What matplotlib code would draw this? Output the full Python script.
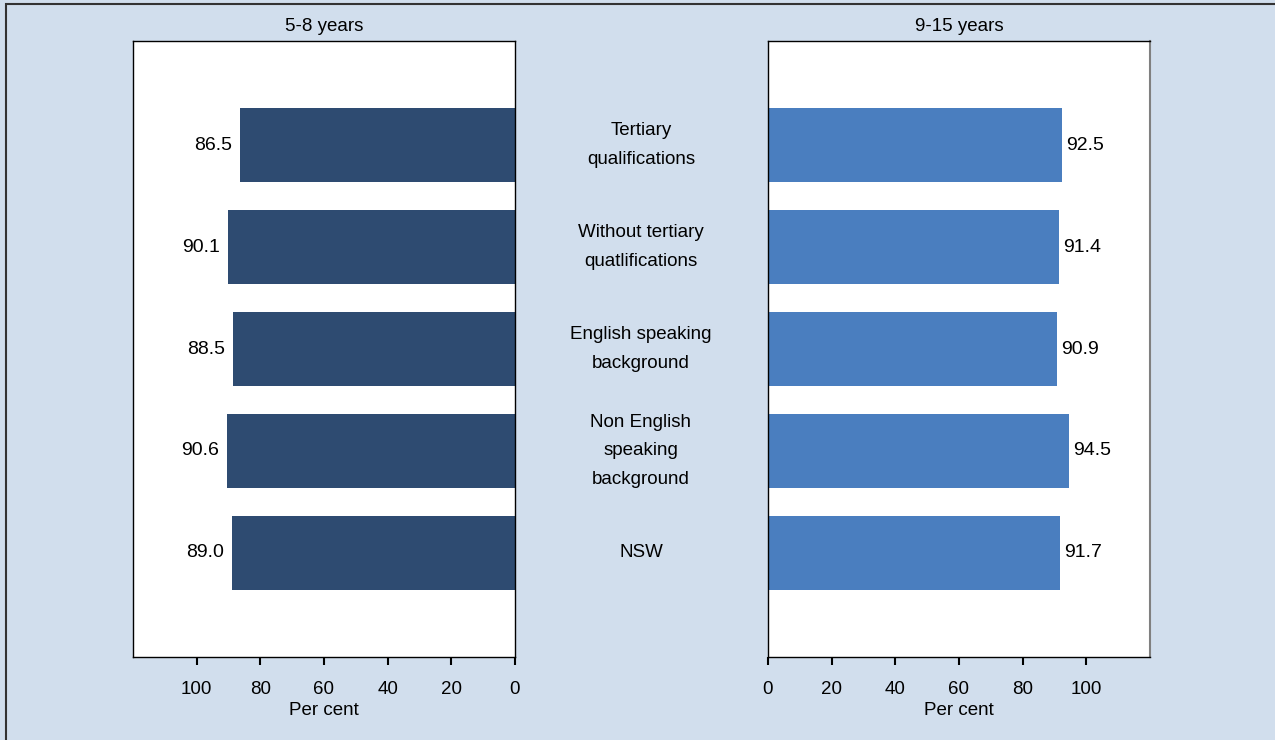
import matplotlib.pyplot as plt
from matplotlib.patches import Rectangle
from matplotlib.transforms import blended_transform_factory

plt.rcParams['font.family'] = ['Liberation Sans', 'DejaVu Sans']

# Groups, top to bottom
groups = ['Tertiary\nqualifications',
          'Without tertiary\nquatlifications',
          'English speaking\nbackground',
          'Non English\nspeaking\nbackground',
          'NSW']

# Per cent, by age group
young = [86.5, 90.1, 88.5, 90.6, 89.0]   # 5-8 years
older = [92.5, 91.4, 90.9, 94.5, 91.7]   # 9-15 years

ticks = [0, 20, 40, 60, 80, 100]

bg = '#d1deed'
fs = 13.5
fig = plt.figure(figsize=(12.75, 7.4), dpi=100, facecolor=bg)

# frame round the figure
fig.patches.append(Rectangle((6 / 1275, -0.01), 1.02, 1 - 4 / 740 + 0.01,
                             transform=fig.transFigure, fill=False,
                             edgecolor='#333333', linewidth=1.5))

ax1 = fig.add_axes([133 / 1275, 1 - 657 / 740, 382 / 1275, 616 / 740])
ax2 = fig.add_axes([768 / 1275, 1 - 657 / 740, 382 / 1275, 616 / 740])

pos = list(range(len(groups)))
ax1.barh(pos, young, height=0.72, color='#2e4b71')
ax2.barh(pos, older, height=0.72, color='#4a7ebf')

for ax, title in [(ax1, '5-8 years'), (ax2, '9-15 years')]:
    ax.set_xlim(0, 120)
    ax.set_ylim(5.02, -1.02)
    ax.set_yticks([])
    ax.set_xticks(ticks)
    ax.tick_params(axis='x', direction='out', length=6, width=1.5,
                   pad=11, labelsize=fs)
    ax.set_xlabel('Per cent', fontsize=fs, labelpad=3)
    ax.set_title(title, fontsize=fs, pad=7)
    for s in ax.spines.values():
        s.set_linewidth(1.0)
        s.set_color('black')

ax1.invert_xaxis()
ax2.spines['right'].set_color('#808080')
ax2.spines['right'].set_linewidth(1.5)

for y, v in zip(pos, young):
    ax1.text(v + 2.5, y, f'{v:.1f}', ha='right', va='center', fontsize=14)
for y, v in zip(pos, older):
    ax2.text(v + 1.2, y, f'{v:.1f}', ha='left', va='center', fontsize=14)

tr = blended_transform_factory(fig.transFigure, ax1.transData)
for y, g in zip(pos, groups):
    ax1.text(641 / 1275, y, g, transform=tr, ha='center', va='center',
             fontsize=fs, linespacing=1.88, clip_on=False)

fig.savefig('out.png', dpi=100, facecolor=bg)
